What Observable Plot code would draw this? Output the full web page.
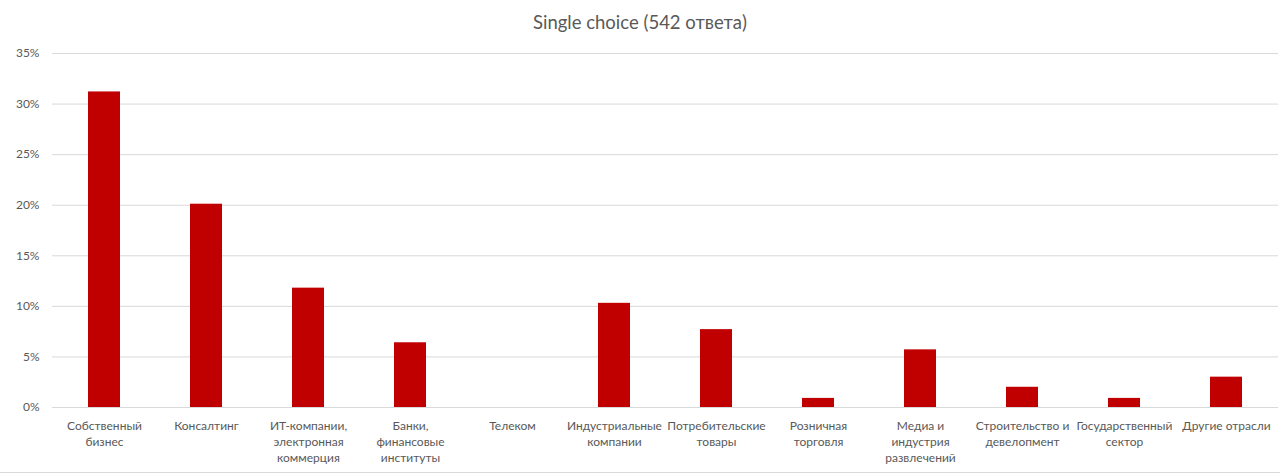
<!DOCTYPE html>
<html>
<head>
<meta charset="utf-8">
<script src="https://cdn.jsdelivr.net/npm/d3@7"></script>
<script src="https://cdn.jsdelivr.net/npm/@observablehq/plot@0.6"></script>
<style>
  html, body { margin: 0; padding: 0; background: #fff; }
  #wrap { width: 1280px; height: 472px; border-bottom: 1px solid #d9d9d9; position: relative; overflow: hidden; font-family: Lato, "Open Sans", sans-serif; }
  #title { height: 40px; line-height: 44px; text-align: center; font-size: 18.5px; color: #595959; }
  #chart svg { display: block; }
</style>
</head>
<body>
<div id="wrap">
  <div id="title">Single choice (542 ответа)</div>
  <div id="chart"></div>
</div>
<script>
const categories = [
  "Собственный бизнес",
  "Консалтинг",
  "ИТ-компании, электронная коммерция",
  "Банки, финансовые институты",
  "Телеком",
  "Индустриальные компании",
  "Потребительские товары",
  "Розничная торговля",
  "Медиа и индустрия развлечений",
  "Строительство и девелопмент",
  "Государственный сектор",
  "Другие отрасли"
];
const tickLabels = [
  "Собственный\nбизнес",
  "Консалтинг",
  "ИТ-компании,\nэлектронная\nкоммерция",
  "Банки,\nфинансовые\nинституты",
  "Телеком",
  "Индустриальные\nкомпании",
  "Потребительские\nтовары",
  "Розничная\nторговля",
  "Медиа и\nиндустрия\nразвлечений",
  "Строительство и\nдевелопмент",
  "Государственный\nсектор",
  "Другие отрасли"
];
const shares = [31.2, 20.1, 11.8, 6.4, 0, 10.3, 7.7, 0.9, 5.7, 2.0, 0.9, 3.0];
const yTicks = [0, 5, 10, 15, 20, 25, 30, 35];

const data = categories.map((c, i) => ({category: c, share: shares[i]}));
const labelOf = new Map(categories.map((c, i) => [c, tickLabels[i]]));

const chart = Plot.plot({
  width: 1280,
  height: 433,
  marginTop: 13,
  marginBottom: 66,
  marginLeft: 52,
  marginRight: 2,
  style: {fontFamily: "Lato, 'Open Sans', sans-serif", fontSize: "12px", color: "#595959", background: "#fff"},
  x: {domain: categories, paddingInner: 0.69, paddingOuter: 0.345, label: null},
  y: {domain: [0, 35], label: null},
  marks: [
    Plot.gridY(yTicks, {stroke: "#d9d9d9", strokeOpacity: 1, strokeWidth: 1}),
    Plot.barY(data, {x: "category", y: "share", fill: "#c00000"}),
    Plot.axisY(yTicks, {tickSize: 0, tickPadding: 13, tickFormat: d => d + "%", fill: "#595959", fontSize: 12, label: null}),
    Plot.axisX({tickSize: 0, tickPadding: 11, tickFormat: d => labelOf.get(d), fill: "#595959", fontSize: 12, lineHeight: 1.34, label: null})
  ]
});
document.getElementById("chart").appendChild(chart);
</script>
</body>
</html>
